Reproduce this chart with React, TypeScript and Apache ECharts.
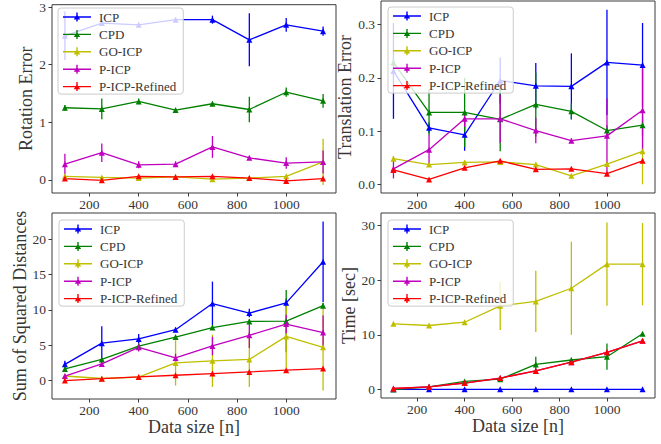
import React, { useEffect, useRef } from "react";
import * as echarts from "echarts";

const dataSizes = [100, 250, 400, 550, 700, 850, 1000, 1150];
const methods = ["ICP", "CPD", "GO-ICP", "P-ICP", "P-ICP-Refined"];
const methodColors = ["#0000ff", "#008000", "#bfbf00", "#bf00bf", "#ff0000"];

// Rotation error (mean, std) per method
const rotMean = [
  [2.5, 2.72, 2.69, 2.78, 2.78, 2.43, 2.69, 2.58],
  [1.25, 1.23, 1.36, 1.21, 1.32, 1.22, 1.52, 1.37],
  [0.06, 0.04, 0.03, 0.05, 0.01, 0.03, 0.06, 0.31],
  [0.27, 0.47, 0.26, 0.27, 0.57, 0.38, 0.29, 0.31],
  [0.02, -0.01, 0.06, 0.05, 0.06, 0.03, -0.02, 0.02],
];
const rotErr = [
  [0.42, 0.05, 0.04, 0.04, 0.07, 0.46, 0.12, 0.08],
  [0.05, 0.18, 0.05, 0.03, 0.04, 0.22, 0.08, 0.12],
  [0.02, 0.02, 0.03, 0.02, 0.03, 0.02, 0.02, 0.4],
  [0.18, 0.16, 0.06, 0.05, 0.19, 0.03, 0.1, 0.2],
  [0.02, 0.02, 0.01, 0.01, 0.01, 0.01, 0.02, 0.02],
];

// Translation error
const transMean = [
  [0.213, 0.106, 0.093, 0.195, 0.185, 0.184, 0.229, 0.224],
  [0.229, 0.135, 0.135, 0.122, 0.15, 0.137, 0.101, 0.111],
  [0.048, 0.037, 0.041, 0.042, 0.037, 0.016, 0.038, 0.062],
  [0.029, 0.065, 0.123, 0.123, 0.101, 0.082, 0.091, 0.139],
  [0.027, 0.009, 0.031, 0.044, 0.028, 0.029, 0.02, 0.044],
];
const transErr = [
  [0.09, 0.01, 0.03, 0.043, 0.043, 0.062, 0.099, 0.079],
  [0.01, 0.043, 0.065, 0.06, 0.06, 0.015, 0.01, 0.02],
  [0.005, 0.004, 0.004, 0.004, 0.004, 0.004, 0.004, 0.062],
  [0.018, 0.028, 0.015, 0.045, 0.024, 0.004, 0.07, 0.082],
  [0.003, 0.003, 0.003, 0.003, 0.003, 0.003, 0.003, 0.003],
];

// Sum of squared distances
const ssdMean = [
  [2.3, 5.3, 5.9, 7.2, 10.9, 9.55, 11.0, 16.8],
  [1.65, 3.0, 4.87, 6.15, 7.5, 8.37, 8.4, 10.6],
  [0.65, 0.3, 0.5, 2.5, 2.8, 3.0, 6.25, 4.7],
  [0.65, 2.36, 4.7, 3.2, 4.9, 6.4, 8.0, 6.8],
  [0.0, 0.28, 0.52, 0.76, 1.0, 1.23, 1.47, 1.7],
];
const ssdErr = [
  [0.5, 2.4, 0.7, 0.3, 3.1, 0.6, 0.6, 5.7],
  [0.2, 0.2, 0.3, 0.2, 0.3, 0.3, 4.4, 0.4],
  [0.2, 0.1, 0.1, 3.2, 3.7, 3.9, 4.5, 6.1],
  [0.3, 0.4, 0.6, 0.6, 1.3, 1.8, 1.3, 2.4],
  [0.1, 0.1, 0.1, 0.1, 0.1, 0.1, 0.1, 0.1],
];

// Time [sec]
const timeMean = [
  [0.05, 0.05, 0.05, 0.05, 0.05, 0.05, 0.05, 0.05],
  [0.0, 0.5, 1.5, 1.9, 4.6, 5.4, 6.0, 10.2],
  [12.0, 11.7, 12.3, 15.3, 16.1, 18.5, 22.9, 22.9],
  [0.2, 0.5, 1.2, 2.1, 3.4, 5.0, 6.8, 8.9],
  [0.2, 0.5, 1.2, 2.1, 3.4, 5.0, 6.8, 8.9],
];
const timeErr = [
  [0.01, 0.01, 0.01, 0.01, 0.01, 0.01, 0.01, 0.01],
  [0.05, 0.1, 0.2, 0.3, 1.4, 0.4, 2.4, 0.3],
  [0.3, 0.3, 0.3, 4.4, 5.6, 8.5, 7.6, 7.5],
  [0.1, 0.1, 0.1, 0.2, 0.2, 0.2, 0.3, 0.3],
  [0.1, 0.1, 0.1, 0.2, 0.2, 0.2, 0.3, 0.3],
];

const xTicks = [200, 400, 600, 800, 1000];
const rotTicks = [0, 1, 2, 3];
const transTicks = [0, 0.1, 0.2, 0.3];
const ssdTicks = [0, 5, 10, 15, 20];
const timeTicks = [0, 10, 20, 30];

const FONT = "Liberation Serif";
const TEXT = "#363636";
const FRAME = "#3a3a3a";
const LEGEND_ICON =
  "path://M0 6.3 L28 6.3 L28 7.7 L0 7.7 Z M13.3 2.5 L14.7 2.5 L14.7 11.5 L13.3 11.5 Z M14 4.3 L17.2 9.6 L10.8 9.6 Z";

const panels = [
  {
    grid: { left: 52, top: 2, width: 284, height: 191 },
    yMin: -0.23, yMax: 3.04, yTicks: rotTicks, yName: "Rotation Error", nameGap: 15,
    fmt: (v: number) => String(v), mean: rotMean, err: rotErr, xName: "",
    legend: { left: 58, top: 8 },
  },
  {
    grid: { left: 381, top: 1, width: 274, height: 192 },
    yMin: -0.0164, yMax: 0.3444, yTicks: transTicks, yName: "Translation Error", nameGap: 24,
    fmt: (v: number) => v.toFixed(1), mean: transMean, err: transErr, xName: "",
    legend: { left: 388, top: 7 },
  },
  {
    grid: { left: 52, top: 213, width: 284, height: 186 },
    yMin: -2.6, yMax: 23.7, yTicks: ssdTicks, yName: "Sum of Squared Distances", nameGap: 23,
    fmt: (v: number) => String(v), mean: ssdMean, err: ssdErr, xName: "Data size [n]",
    legend: { left: 59, top: 220 },
  },
  {
    grid: { left: 381, top: 213, width: 274, height: 185 },
    yMin: -1.535, yMax: 32.24, yTicks: timeTicks, yName: "Time [sec]", nameGap: 21,
    fmt: (v: number) => String(v), mean: timeMean, err: timeErr, xName: "Data size [n]",
    legend: { left: 388, top: 220 },
  },
];

export default function App() {
  const ref = useRef<HTMLDivElement>(null);
  useEffect(() => {
    if (!ref.current) return;
    const chart = echarts.init(ref.current, undefined, { renderer: "svg" });

    const grids: any[] = [];
    const xAxes: any[] = [];
    const yAxes: any[] = [];
    const legends: any[] = [];
    const series: any[] = [];
    const txt = (size: number) => ({ fontFamily: FONT, fontSize: size, fontWeight: "normal", color: TEXT });

    panels.forEach((p, pi) => {
      grids.push({ ...p.grid, show: true, borderColor: FRAME, borderWidth: 1, backgroundColor: "transparent", containLabel: false });
      xAxes.push({
        type: "value", gridIndex: pi, min: 47.5, max: 1202.5,
        name: p.xName, nameLocation: "middle", nameGap: 10,
        nameTextStyle: txt(18),
        axisLine: { show: false, onZero: false },
        axisTick: { show: true, length: 3.5, customValues: xTicks, lineStyle: { color: FRAME } },
        axisLabel: { customValues: xTicks, formatter: (v: number) => String(v), ...txt(13.5), margin: 4 },
        splitLine: { show: false },
      });
      yAxes.push({
        type: "value", gridIndex: pi, min: p.yMin, max: p.yMax,
        name: p.yName, nameLocation: "middle", nameGap: p.nameGap, nameRotate: 90,
        nameTextStyle: txt(18),
        axisLine: { show: false, onZero: false },
        axisTick: { show: true, length: 3.5, customValues: p.yTicks, lineStyle: { color: FRAME } },
        axisLabel: { customValues: p.yTicks, formatter: p.fmt, ...txt(13.5), margin: 6 },
        splitLine: { show: false },
      });
      legends.push({
        orient: "vertical", left: p.legend.left, top: p.legend.top,
        data: methods.map((m) => ({ name: m, icon: LEGEND_ICON })),
        itemWidth: 28, itemHeight: 14, itemGap: 4.4,
        padding: [2.5, 7, 1, 5],
        backgroundColor: "rgba(255,255,255,0.8)", borderColor: "#cccccc", borderWidth: 1, borderRadius: 3,
        textStyle: { ...txt(13), padding: [0, 0, 0, 3] },
        itemStyle: { borderWidth: 0 },
        selectedMode: false, z: 10,
      });
      methods.forEach((m, mi) => {
        const color = methodColors[mi];
        series.push({
          type: "custom", name: m + " err", xAxisIndex: pi, yAxisIndex: pi, silent: true,
          data: dataSizes.map((x, i) => [x, p.mean[mi][i], p.err[mi][i]]),
          encode: { x: 0, y: 1 },
          renderItem: (params: any, api: any) => {
            const x = api.value(0), y = api.value(1), e = api.value(2);
            const a = api.coord([x, y - e]);
            const b = api.coord([x, y + e]);
            return {
              type: "line",
              shape: { x1: a[0], y1: a[1], x2: b[0], y2: b[1] },
              style: { stroke: color, lineWidth: 1.3 },
            };
          },
        });
        series.push({
          type: "line", name: m, xAxisIndex: pi, yAxisIndex: pi, silent: true,
          data: dataSizes.map((x, i) => [x, p.mean[mi][i]]),
          symbol: "triangle", symbolSize: 6, showSymbol: true,
          color, lineStyle: { color, width: 1.3 }, itemStyle: { color },
          emphasis: { disabled: true },
        });
      });
    });

    chart.setOption({
      animation: false,
      backgroundColor: "#ffffff",
      textStyle: { fontFamily: FONT },
      grid: grids,
      xAxis: xAxes,
      yAxis: yAxes,
      legend: legends,
      series,
    });
    return () => chart.dispose();
  }, []);
  return (
    <div
      ref={ref}
      style={{ position: "absolute", left: 0, top: 0, width: 661, height: 444 }}
    />
  );
}
